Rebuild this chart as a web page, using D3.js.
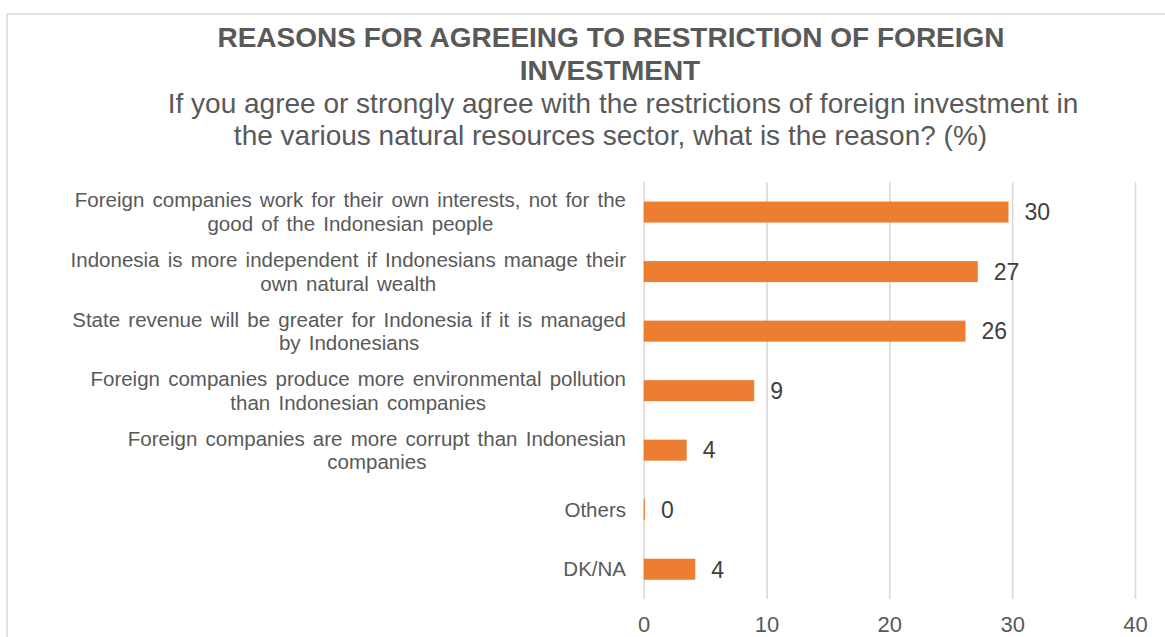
<!DOCTYPE html>
<html><head><meta charset="utf-8">
<script src="https://cdn.jsdelivr.net/npm/d3@7"></script>
<style>body{margin:0;background:#fff}svg{display:block}text{font-family:Arial,"Liberation Sans",sans-serif}</style>
</head><body>
<svg id="c" width="1165" height="637"></svg>
<script>
const titleLines = ["REASONS FOR AGREEING TO RESTRICTION OF FOREIGN", "INVESTMENT"];
const subtitleLines = ["If you agree or strongly agree with the restrictions of foreign investment in", "the various natural resources sector, what is the reason? (%)"];
const categories = [
  ["Foreign companies work for their own interests, not for the", "good of the Indonesian people"],
  ["Indonesia is more independent if Indonesians manage their", "own natural wealth"],
  ["State revenue will be greater for Indonesia if it is managed", "by Indonesians"],
  ["Foreign companies produce more environmental pollution", "than Indonesian companies"],
  ["Foreign companies are more corrupt than Indonesian", "companies"],
  ["Others"],
  ["DK/NA"]
];
const values = [29.7, 27.2, 26.2, 9.0, 3.5, 0.1, 4.2];
const valueLabels = ["30", "27", "26", "9", "4", "0", "4"];
const xTicks = [0, 10, 20, 30, 40];

const svg = d3.select("#c");
svg.append("rect").attr("x", 7).attr("y", 14).attr("width", 1170).attr("height", 640)
  .attr("fill", "#fff").attr("stroke", "#d9d9d9").attr("stroke-width", 1.5);

const x = d3.scaleLinear().domain([0, 40]).range([643.7, 1135]);
const idx = categories.map((d, i) => i);
const y = d3.scaleBand().domain(idx).range([182.3, 599]).paddingInner(0.647).paddingOuter(0.3235);

// title
const tg = svg.append("g");
const titleX = [611, 610], subX = [623, 610.5];
titleLines.forEach((t, i) => tg.append("text").attr("x", titleX[i]).attr("y", 47 + i * 33)
  .attr("text-anchor", "middle").attr("font-size", 28).attr("font-weight", "bold").attr("fill", "#595959").text(t));
subtitleLines.forEach((t, i) => tg.append("text").attr("x", subX[i]).attr("y", 113 + i * 32)
  .attr("text-anchor", "middle").attr("font-size", 28).attr("fill", "#595959").text(t));

// gridlines + ticks
const gx = svg.append("g").attr("transform", "translate(0,599)")
  .call(d3.axisBottom(x).tickValues(xTicks).tickSize(-(599 - 182.3)).tickPadding(17).tickFormat(d3.format("d")));
gx.select(".domain").remove();
gx.selectAll(".tick line").attr("stroke", "#d9d9d9").attr("stroke-width", 1.6);
gx.selectAll(".tick text").attr("font-size", 22).attr("fill", "#595959").attr("dy", "0.71em")
  .attr("font-family", "Arial, 'Liberation Sans', sans-serif");

// bars
svg.append("g").selectAll("rect").data(values).join("rect")
  .attr("x", x(0)).attr("y", (d, i) => y(i)).attr("height", y.bandwidth())
  .attr("width", d => x(d) - x(0)).attr("fill", "#ED7D31");

// data labels
svg.append("g").selectAll("text").data(values).join("text")
  .attr("x", d => x(d) + 16).attr("y", (d, i) => y(i) + y.bandwidth() / 2).attr("dy", "0.36em")
  .attr("font-size", 23).attr("fill", "#404040").text((d, i) => valueLabels[i]);

// category labels
const right = 626, lh = 23.5;
categories.forEach((lines, i) => {
  const g = svg.append("g");
  const cy = y(i) + y.bandwidth() / 2;
  const ts = lines.map((l, j) => g.append("text").attr("font-size", 20.5).attr("word-spacing", 2.5)
    .attr("fill", "#595959").attr("text-anchor", "middle")
    .attr("y", cy + (j - (lines.length - 1) / 2) * lh).attr("dy", "0.35em").text(l));
  const maxW = d3.max(ts, t => t.node().getComputedTextLength());
  ts.forEach(t => t.attr("x", right - maxW / 2));
});
</script>
</body></html>
